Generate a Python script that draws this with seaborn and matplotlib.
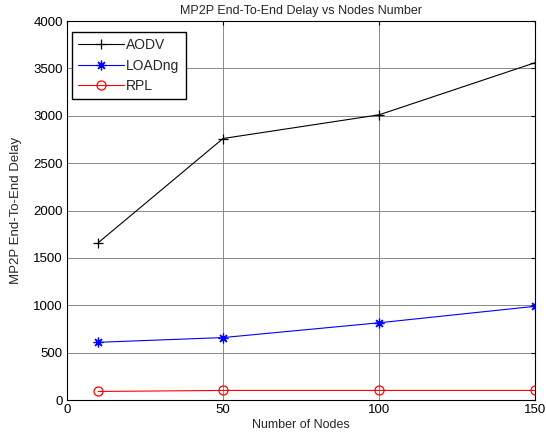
import matplotlib
matplotlib.use("Agg")
import matplotlib.pyplot as plt
import seaborn as sns
import pandas as pd

nodes = [10, 50, 100, 150]
aodv = [1660, 2760, 3010, 3560]
loadng = [609, 659, 815, 989]
rpl = [90, 101, 101, 101]
protocols = ["AODV", "LOADng", "RPL"]
colors = {"AODV": "black", "LOADng": "blue", "RPL": "red"}
markers = {"AODV": "+", "LOADng": (8, 2, 0), "RPL": "o"}

sns.set_style("white")
plt.rcParams["font.family"] = ["Liberation Sans", "DejaVu Sans"]

fig = plt.figure(figsize=(5.46, 4.40), dpi=100)
ax = fig.add_axes([0.1227, 0.0909, 0.8573, 0.8613])

for name, vals in zip(protocols, [aodv, loadng, rpl]):
    df = pd.DataFrame({"Nodes": nodes, "Delay": vals})
    sns.lineplot(data=df, x="Nodes", y="Delay", color=colors[name], marker=markers[name],
                 linewidth=0.8, markersize=7 if name != "RPL" else 6.5,
                 markerfacecolor="none", markeredgecolor=colors[name],
                 markeredgewidth=0.9, label=name, ax=ax)

ax.set_xlim(0, 150)
ax.set_ylim(0, 4000)
ax.set_xticks([0, 50, 100, 150])
ax.set_yticks(range(0, 4001, 500))
ax.grid(True, color="#888888", linewidth=0.7, linestyle="-")
ax.tick_params(direction="in", length=3, width=0.8, labelsize=9.5, top=True, right=True,
               colors="black", pad=3)
for s in ax.spines.values():
    s.set_visible(True)
    s.set_color("black")
    s.set_linewidth(0.8)
ax.set_xlabel("Number of Nodes", fontsize=9, labelpad=2)
ax.set_ylabel("MP2P End-To-End Delay", fontsize=9.5, labelpad=8)
ax.set_title("MP2P End-To-End Delay vs Nodes Number", fontsize=9, pad=5)

leg = ax.legend(loc="upper left", bbox_to_anchor=(0.011, 0.971), borderaxespad=0,
                fontsize=10, frameon=True, fancybox=False,
                edgecolor="black", framealpha=1, handlelength=3.3,
                labelspacing=0.45, handletextpad=0.15, borderpad=0.45)
leg.get_frame().set_linewidth(1.0)

fig.savefig("out.png", dpi=100)
